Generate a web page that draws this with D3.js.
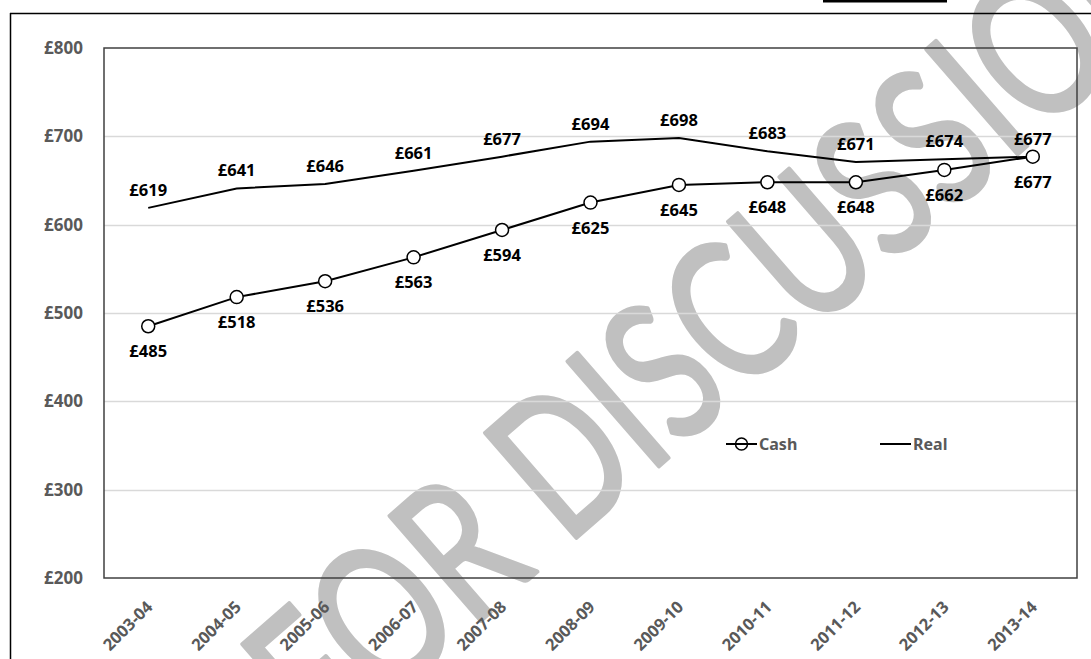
<!DOCTYPE html>
<html>
<head>
<meta charset="utf-8">
<script src="https://cdn.jsdelivr.net/npm/d3@7/dist/d3.min.js"></script>
<style>
  html, body { margin: 0; padding: 0; background: #fff; }
  svg { display: block; }
</style>
</head>
<body>
<svg id="chart" width="1091" height="659"></svg>
<script>
// Spending per head, cash vs real terms
const years = ["2003-04","2004-05","2005-06","2006-07","2007-08","2008-09","2009-10","2010-11","2011-12","2012-13","2013-14"];
const cashValues = [485, 518, 536, 563, 594, 625, 645, 648, 648, 662, 677];
const realValues = [619, 641, 646, 661, 677, 694, 698, 683, 671, 674, 677];
const yTicks = [200, 300, 400, 500, 600, 700, 800];
const seriesNames = ["Cash", "Real"];
const watermarkText = "FOR DISCUSSION";

const svg = d3.select("#chart");
const W = 1091, H = 659;
const plot = { left: 104, right: 1077, top: 48, bottom: 578 };
const FONT = "'Noto Sans', 'DejaVu Sans', sans-serif";

const x = d3.scalePoint().domain(years).range([plot.left, plot.right]).padding(0.5);
const y = d3.scaleLinear().domain([200, 800]).range([plot.bottom, plot.top]);

const fmt = v => "£" + v;

// diagonal watermark, condensed, behind everything
const wm = svg.append("g").attr("transform", "translate(575,539) rotate(-41) scale(0.74,1)");
const wmText = wm.append("text")
  .attr("font-family", "Lato, sans-serif")
  .attr("font-size", 194)
  .attr("fill", "#c0c0c0")
  .attr("stroke", "#c0c0c0")
  .attr("stroke-width", 4)
  .attr("stroke-linejoin", "round")
  .text(watermarkText);
const preW = wmText.node().getSubStringLength(0, 4);
wmText.attr("x", -preW - 16);

// page frame
svg.append("line").attr("x1", 10).attr("x2", W).attr("y1", 13.5).attr("y2", 13.5)
  .attr("stroke", "#000").attr("stroke-width", 1.5);
svg.append("line").attr("x1", 10.5).attr("x2", 10.5).attr("y1", 13).attr("y2", H)
  .attr("stroke", "#000").attr("stroke-width", 1.5);
svg.append("rect").attr("x", 823).attr("y", 0).attr("width", 124).attr("height", 2.5).attr("fill", "#000");

// gridlines
svg.append("g")
  .selectAll("line")
  .data(yTicks.filter(t => t > 200 && t < 800))
  .join("line")
  .attr("x1", plot.left).attr("x2", plot.right)
  .attr("y1", d => Math.round(y(d)) + 0.5).attr("y2", d => Math.round(y(d)) + 0.5)
  .attr("stroke", "#d9d9d9").attr("stroke-width", 1.5);

// plot border
svg.append("rect")
  .attr("x", plot.left).attr("y", plot.top)
  .attr("width", plot.right - plot.left).attr("height", plot.bottom - plot.top)
  .attr("fill", "none").attr("stroke", "#404040").attr("stroke-width", 1.5);

// y axis labels
const yAxis = d3.axisLeft(y).tickValues(yTicks).tickFormat(fmt).tickSize(0).tickPadding(21);
const yG = svg.append("g").attr("transform", `translate(${plot.left},0)`).call(yAxis);
yG.select(".domain").remove();
yG.selectAll("text")
  .attr("font-family", FONT)
  .attr("font-weight", "bold").attr("font-size", 17).attr("fill", "#595959");

// x axis labels
const xAxis = d3.axisBottom(x).tickSize(0).tickPadding(0);
const xG = svg.append("g").attr("transform", `translate(0,${plot.bottom})`).call(xAxis);
xG.select(".domain").remove();
xG.selectAll("text")
  .attr("font-family", FONT)
  .attr("font-weight", "bold").attr("font-size", 16.5).attr("fill", "#595959")
  .attr("text-anchor", "end")
  .attr("dy", null).attr("y", 0)
  .attr("transform", "translate(5,30) rotate(-45)");

// series lines
const line = d3.line().x((d, i) => x(years[i])).y(d => y(d));
svg.append("path").datum(realValues).attr("d", line)
  .attr("fill", "none").attr("stroke", "#000").attr("stroke-width", 2);
svg.append("path").datum(cashValues).attr("d", line)
  .attr("fill", "none").attr("stroke", "#000").attr("stroke-width", 2);

svg.append("g").selectAll("circle").data(cashValues).join("circle")
  .attr("cx", (d, i) => x(years[i])).attr("cy", d => y(d)).attr("r", 6.5)
  .attr("fill", "#fff").attr("stroke", "#000").attr("stroke-width", 1.5);

// data labels
const labelStyle = sel => sel
  .attr("font-family", FONT)
  .attr("font-weight", "bold").attr("font-size", 16.5).attr("fill", "#000")
  .attr("text-anchor", "middle");

svg.append("g").selectAll("text").data(realValues).join("text")
  .attr("x", (d, i) => x(years[i])).attr("y", d => y(d) - 12)
  .text(fmt).call(labelStyle);
svg.append("g").selectAll("text").data(cashValues).join("text")
  .attr("x", (d, i) => x(years[i])).attr("y", d => y(d) + 31)
  .text(fmt).call(labelStyle);

// legend
const legend = svg.append("g");
const legendItems = [
  { name: seriesNames[0], x: 726, marker: true },
  { name: seriesNames[1], x: 880, marker: false }
];
legendItems.forEach(it => {
  const g = legend.append("g").attr("transform", `translate(${it.x},444)`);
  g.append("line").attr("x1", 0).attr("x2", 31).attr("y1", 0).attr("y2", 0)
    .attr("stroke", "#000").attr("stroke-width", 2);
  if (it.marker) {
    g.append("circle").attr("cx", 15.5).attr("cy", 0).attr("r", 6)
      .attr("fill", "none").attr("stroke", "#000").attr("stroke-width", 1.5);
  }
  g.append("text").attr("x", 33).attr("y", 6)
    .attr("font-family", FONT)
    .attr("font-weight", "bold").attr("font-size", 16).attr("fill", "#595959")
    .text(it.name);
});
</script>
</body>
</html>
